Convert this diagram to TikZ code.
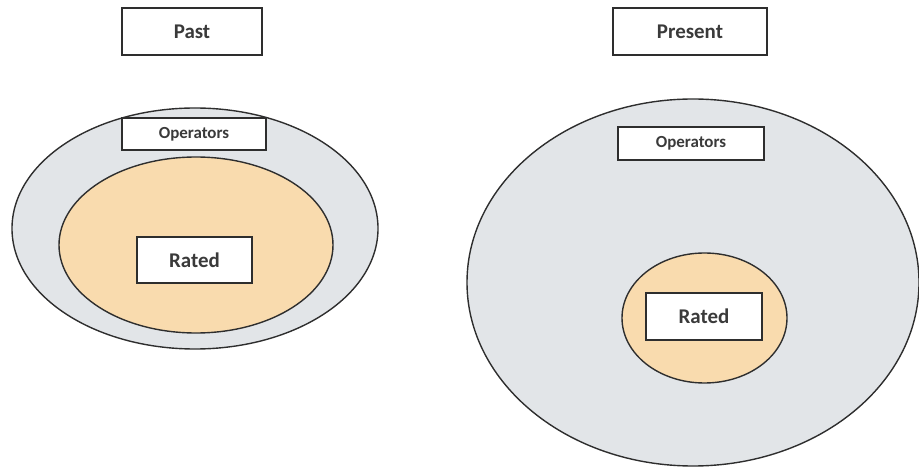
\documentclass[tikz,border=0pt]{standalone}
\usepackage{fontspec}
\setmainfont{Carlito}
\usetikzlibrary{shapes.geometric}
\definecolor{outerfill}{HTML}{E2E5E8}
\definecolor{innerfill}{HTML}{F9DBAE}
\definecolor{edgecol}{HTML}{2E2E2E}
\definecolor{txtcol}{HTML}{3A3A3A}
\tikzset{
  labelbox/.style={draw=edgecol, line width=1.5pt, fill=white, text=txtcol, inner sep=0pt, anchor=center},
  bigtext/.style={font=\fontsize{21}{25}\selectfont\bfseries},
  smalltext/.style={font=\fontsize{17}{20}\selectfont\bfseries},
  outerell/.style={draw=edgecol, line width=1.4pt, fill=outerfill, ellipse, inner sep=0pt},
  innerell/.style={draw=edgecol, line width=1.4pt, fill=innerfill, ellipse, inner sep=0pt}
}
\begin{document}
\begin{tikzpicture}[x=1bp,y=-1bp]
\useasboundingbox (0,0) rectangle (919,468);
% Past
\node[labelbox, bigtext, minimum width=140bp, minimum height=47bp] (past) at (192,31.5) {Past};
\node[outerell, minimum width=366bp, minimum height=241bp] (pouter) at (195,228.5) {};
\node[innerell, minimum width=274bp, minimum height=176bp] (pinner) at (196,245) {};
\node[labelbox, smalltext, minimum width=144bp, minimum height=32bp] (pops) at (194,134) {Operators};
\node[labelbox, bigtext, minimum width=115bp, minimum height=46bp] (prated) at (194.5,260) {Rated};
% Present
\node[labelbox, bigtext, minimum width=154bp, minimum height=47bp] (present) at (690,31.5) {Present};
\node[outerell, minimum width=452bp, minimum height=367bp] (router) at (693,282.5) {};
\node[innerell, minimum width=165bp, minimum height=130bp] (rinner) at (704.5,318) {};
\node[labelbox, smalltext, minimum width=146bp, minimum height=33bp] (rops) at (691,143.5) {Operators};
\node[labelbox, bigtext, minimum width=116bp, minimum height=47bp] (rrated) at (704,316.5) {Rated};
\end{tikzpicture}
\end{document}
